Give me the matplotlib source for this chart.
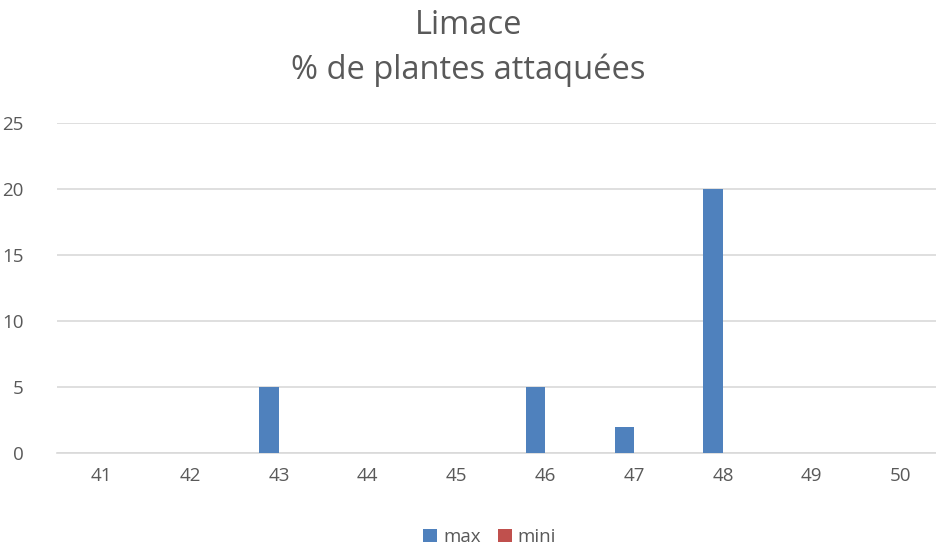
import numpy as np
import matplotlib.pyplot as plt

plt.rcParams['font.family'] = ['Open Sans', 'DejaVu Sans']

categories = ['41', '42', '43', '44', '45', '46', '47', '48', '49', '50']
max_vals = [0, 0, 5, 0, 0, 5, 2, 20, 0, 0]
mini_vals = [0, 0, 0, 0, 0, 0, 0, 0, 0, 0]

fig = plt.figure(figsize=(9.37, 5.48), dpi=100)
ax = fig.add_axes([57 / 937, 1 - 453 / 548, 888 / 937, 330 / 548])

x = np.arange(len(categories))
w = 0.22
ax.bar(x - w / 2, max_vals, w, color='#4f81bd', label='max', zorder=3)
ax.bar(x + w / 2, mini_vals, w, color='#c0504d', label='mini', zorder=3)

ax.set_xlim(-0.5, len(categories) - 0.5)
ax.set_ylim(0, 25)
ax.set_yticks(range(0, 26, 5))
ax.set_xticks(x)
ax.set_xticklabels(categories)
ax.grid(axis='y', color='#d9d9d9', linewidth=1.2, zorder=0)
for s in ['top', 'right', 'left']:
    ax.spines[s].set_visible(False)
ax.spines['bottom'].set_color('#d9d9d9')
ax.spines['bottom'].set_linewidth(1.2)
ax.tick_params(length=0, labelsize=13.5, colors='#595959', pad=10)
ax.tick_params(axis='y', pad=24)

# titre sur deux lignes
fig.text(0.5, 1 - 26 / 548, 'Limace', ha='center', va='center', fontsize=23.5, color='#595959')
fig.text(0.5, 1 - 70 / 548, '% de plantes attaquées', ha='center', va='center',
         fontsize=23.5, color='#595959')

ax.legend(loc='center', bbox_to_anchor=(0.487, -0.255), ncol=2, frameon=False,
          fontsize=13.5, labelcolor='#595959', handlelength=0.75, handleheight=0.75,
          handletextpad=0.3, columnspacing=0.9)

fig.savefig('out.png', dpi=100)
